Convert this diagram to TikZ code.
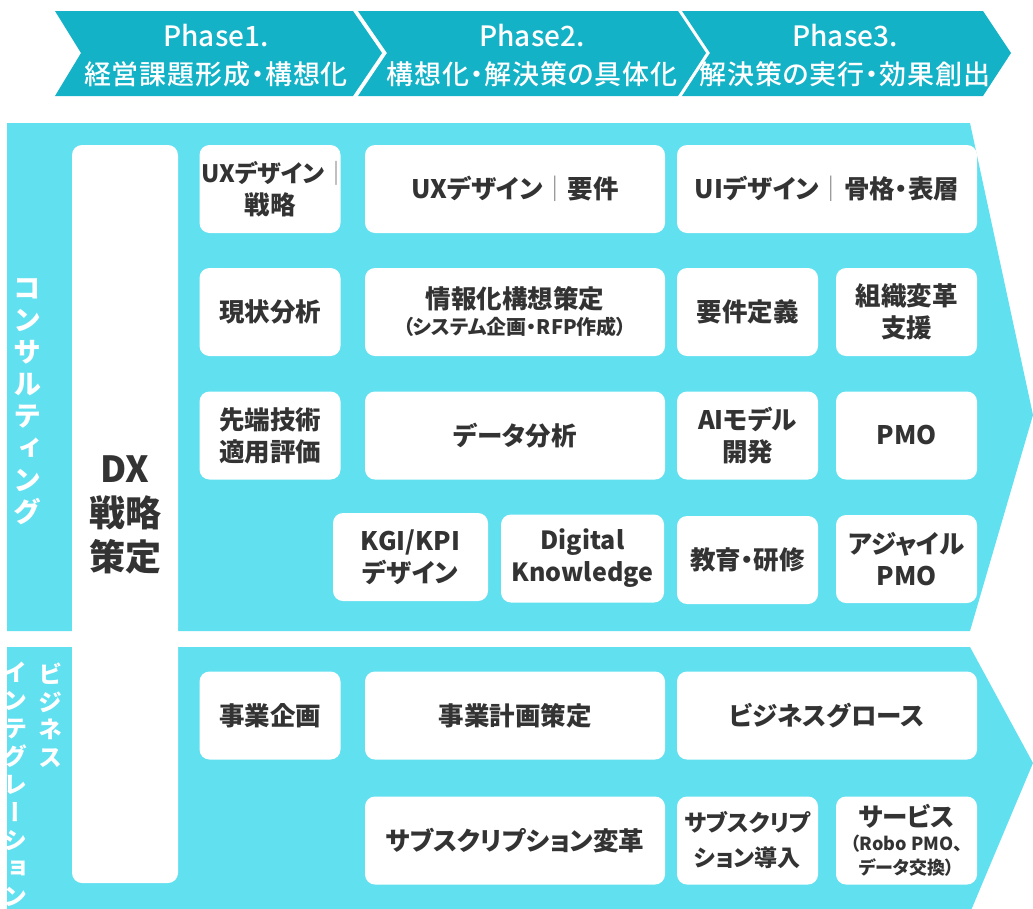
\documentclass[tikz,border=0pt]{standalone}
\usepackage{fontspec}
\setmainfont{Noto Sans CJK JP}[RawFeature=+palt]
\newfontfamily\plainfont{Noto Sans CJK JP}
\newfontfamily\medfont{Noto Sans CJK JP Medium}[RawFeature=+palt]
\newfontfamily\phasefont{Noto Sans CJK JP Medium}[RawFeature=+palt, LetterSpace=3]
\newfontfamily\vfont{Noto Sans CJK JP}[RawFeature=+vert]
\definecolor{panel}{RGB}{97,224,240}
\definecolor{phase}{RGB}{20,178,198}
\definecolor{ink}{RGB}{51,51,51}
\definecolor{bar}{RGB}{130,130,130}
\newcommand{\vbar}{{\plainfont\mdseries\color{bar}｜}}
\begin{document}
\begin{tikzpicture}[x=1pt,y=-1pt,
  box/.style={fill=white, rounded corners=10pt, inner sep=0pt, text=ink,
    align=center, font=\fontsize{25.5}{32}\selectfont\bfseries},
  narrowbox/.style={box, minimum width=141, minimum height=88},
  widebox/.style={box, minimum width=300, minimum height=88},
  phasetext/.style={text=white, align=center, font=\fontsize{27}{38}\selectfont\phasefont},
  vtext/.style={text=white, align=center, inner sep=0pt}]
\useasboundingbox (0,0) rectangle (1033,908);
\clip (0,0) rectangle (1033,908);

% phase chevrons
\fill[phase] (55,11) -- (353,11) -- (382,53) -- (353,96) -- (55,96) -- (81,53) -- cycle;
\fill[phase] (358,11) -- (678,11) -- (706,53) -- (678,96) -- (358,96) -- (387,53) -- cycle;
\fill[phase] (682,11) -- (983,11) -- (1011,53) -- (983,96) -- (682,96) -- (710,53) -- cycle;
\node[phasetext] (p1) at (216,56) {{\medfont\fontsize{28}{38}\selectfont Phase1.}\\経営課題形成・構想化};
\node[phasetext] (p2) at (532,56) {{\medfont\fontsize{28}{38}\selectfont Phase2.}\\構想化・解決策の具体化};
\node[phasetext] (p3) at (845,56) {{\medfont\fontsize{28}{38}\selectfont Phase3.}\\解決策の実行・効果創出};

% panels
\fill[panel] (7,123) -- (970,123) -- (1033,415) -- (970,631) -- (7,631) -- cycle;
\fill[panel] (7,647) -- (970,647) -- (1033,763) -- (972,908) -- (960,930) -- (7,930) -- cycle;

% DX column
\node[fill=white, rounded corners=10pt, minimum width=106, minimum height=738, inner sep=0pt] (dxcol) at (125,514) {};
\node[text=ink, align=center, font=\fontsize{36}{44}\selectfont\bfseries] (dx) at (125,515) {DX\\戦略\\策定};

% vertical labels
\node[vtext, font=\fontsize{28}{32}\selectfont\vfont\bfseries] (consult) at (27,402) {コ\\ン\\サ\\ル\\テ\\ィ\\ン\\グ};
\node[vtext, font=\fontsize{24}{27.5}\selectfont\vfont\bfseries] (biz) at (50,715) {ビ\\ジ\\ネ\\ス};
\node[vtext, font=\fontsize{24}{28}\selectfont\vfont\bfseries] (integ) at (15,784) {イ\\ン\\テ\\グ\\レ\\ー\\シ\\ョ\\ン};

% column A
\node[narrowbox] (a1) at (270,189) {{\fontsize{24}{32}\selectfont UXデザイン\vbar\kern-0.42em}\\戦略};
\node[narrowbox] (a2) at (270,312) {現状分析};
\node[narrowbox] (a3) at (270,435.5) {先端技術\\適用評価};
\node[narrowbox] (a4) at (270,715.5) {事業企画};

% middle column
\node[widebox] (m1) at (515,189) {UXデザイン\vbar 要件};
\node[widebox] (m2) at (515,312) {情報化構想策定\\[-6pt]{\fontsize{20}{22}\selectfont（システム企画・RFP作成）}};
\node[widebox] (m3) at (515,435.5) {データ分析};
\node[box, minimum width=155, minimum height=88] (kgi) at (410.5,557) {KGI/KPI\\デザイン};
\node[box, minimum width=163, minimum height=88, font=\fontsize{25}{32}\selectfont\bfseries] (dk) at (582.5,558.5) {Digital\\Knowledge};
\node[widebox] (m4) at (515,715.5) {事業計画策定};
\node[widebox] (m5) at (515,840.5) {サブスクリプション変革};

% right columns
\node[widebox] (r1) at (827,189) {UIデザイン\vbar 骨格・表層};
\node[narrowbox] (r2a) at (747.5,312) {要件定義};
\node[narrowbox] (r2b) at (906.5,312) {組織変革\\支援};
\node[narrowbox] (r3a) at (747.5,435.5) {AIモデル\\開発};
\node[narrowbox] (r3b) at (906.5,435.5) {PMO};
\node[narrowbox] (r4a) at (747.5,560) {教育・研修};
\node[narrowbox] (r4b) at (906.5,559) {アジャイル\\PMO};
\node[widebox] (r5) at (827,715.5) {ビジネスグロース};
\node[narrowbox, font=\fontsize{23}{35}\selectfont\bfseries] (r6a) at (747.5,840.5) {サブスクリプ\\ション導入};
\node[narrowbox] (r6b) at (906.5,840.5) {サービス\\[-8pt]{\fontsize{18}{21}\selectfont（Robo PMO、}\\[-8pt]{\fontsize{18}{21}\selectfont データ交換）}};
\end{tikzpicture}
\end{document}
